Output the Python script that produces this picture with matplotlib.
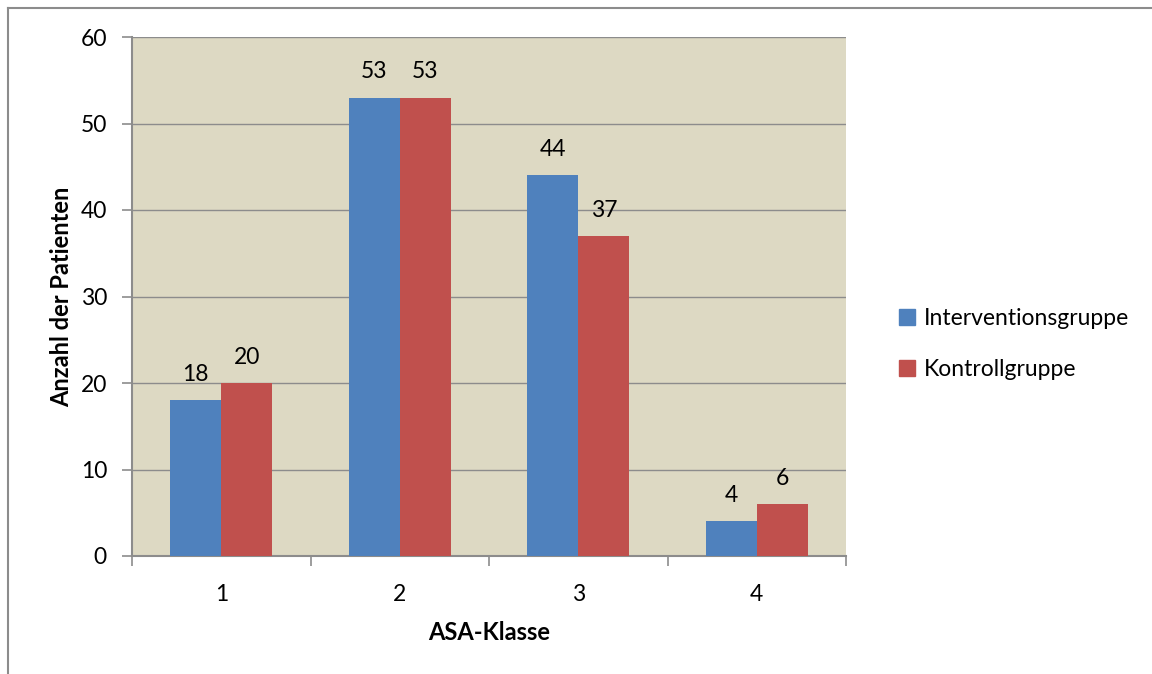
import numpy as np
import matplotlib.pyplot as plt
from matplotlib.lines import Line2D
from matplotlib.patches import Patch

# Anzahl der Patienten je ASA-Klasse
klassen = ['1', '2', '3', '4']
intervention = [18, 53, 44, 4]
kontrolle = [20, 53, 37, 6]
gruppen = ['Interventionsgruppe', 'Kontrollgruppe']

blau = '#4F81BD'
rot = '#C0504D'
hintergrund = '#DDD9C3'
grau = '#8C8C8C'
gr = 16.5  # Schriftgröße

plt.rcParams['font.family'] = ['Lato', 'DejaVu Sans']

fig = plt.figure(figsize=(11.52, 6.74), dpi=100)
ax = fig.add_axes([132 / 1152, 118 / 674, 714 / 1152, 519 / 674])
ax.set_facecolor(hintergrund)

x = np.arange(len(klassen))
breite = 0.286
b1 = ax.bar(x - breite / 2, intervention, breite, color=blau, label=gruppen[0], zorder=3)
b2 = ax.bar(x + breite / 2, kontrolle, breite, color=rot, label=gruppen[1], zorder=3)

# Werte über den Balken
for balken, werte in ((b1, intervention), (b2, kontrolle)):
    for r, v in zip(balken, werte):
        ax.annotate(str(v), (r.get_x() + r.get_width() / 2, v), xytext=(0, 11),
                    textcoords='offset points', ha='center', va='bottom', fontsize=gr)

ax.set_xlim(-0.5, len(klassen) - 0.5)
ax.set_ylim(0, 60)
ax.set_yticks(range(0, 61, 10))
ax.yaxis.grid(True, color=grau, linewidth=1, zorder=0)
ax.set_axisbelow(True)

# Kategorien mittig, Teilstriche an den Grenzen
ax.set_xticks(x)
ax.set_xticklabels(klassen)
ax.set_xticks(np.arange(-0.5, len(klassen)), minor=True)
ax.tick_params(axis='x', which='major', length=0, pad=20, labelsize=gr)
ax.tick_params(axis='x', which='minor', length=7, width=1.2, color=grau, direction='out')
ax.tick_params(axis='y', length=7, width=1.2, color=grau, pad=11, labelsize=gr)

for s in ('top', 'right'):
    ax.spines[s].set_visible(False)
for s in ('left', 'bottom'):
    ax.spines[s].set_color(grau)
    ax.spines[s].set_linewidth(1.5)

ax.set_xlabel('ASA-Klasse', fontsize=17, fontweight='bold', labelpad=12)
ax.set_ylabel('Anzahl der Patienten', fontsize=17, fontweight='bold', labelpad=5)

handles = [Patch(color=blau), Patch(color=rot)]
fig.legend(handles, gruppen, loc='center left', bbox_to_anchor=(878 / 1152, 1 - 344 / 674),
           frameon=False, fontsize=gr, handlelength=0.7, handleheight=0.7,
           handletextpad=0.4, labelspacing=1.3)

# Rahmen des Diagrammbereichs
fig.add_artist(Line2D([7.5 / 1152, 7.5 / 1152], [0, 1 - 7.5 / 674], color=grau, lw=1.5))
fig.add_artist(Line2D([7.5 / 1152, 1], [1 - 7.5 / 674, 1 - 7.5 / 674], color=grau, lw=1.5))

fig.savefig('out.png', dpi=100, facecolor='white')
